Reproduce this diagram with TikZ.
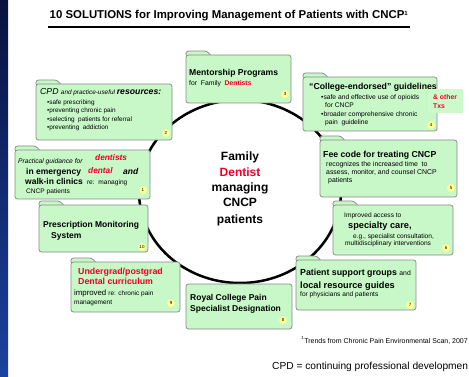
\documentclass[tikz,border=0pt]{standalone}
\usepackage{fontspec}
\usetikzlibrary{shapes.geometric}
\setmainfont{Liberation Sans}
\definecolor{boxgreen}{RGB}{200,247,200}
\definecolor{boxgray}{RGB}{140,140,140}
\definecolor{badgeyellow}{RGB}{255,255,150}
\definecolor{hired}{RGB}{240,0,40}
\definecolor{overlaygreen}{RGB}{205,250,205}
\definecolor{navytop}{RGB}{8,18,62}
\definecolor{navybot}{RGB}{28,66,160}
\newcommand\fsz[1]{\fontsize{#1}{#1}\selectfont}
\newcommand\folderbox[4]{%
  \draw[boxstyle] (#1,{#2+2}) -- (#1,{#2-4}) -- ({#1+21},{#2-4}) -- ({#1+26},{#2+2}) -- cycle;
  \draw[boxstyle] (#1,#2) rectangle (#3,#4);}
\tikzset{
  x=1pt, y=-1pt,
  boxstyle/.style={fill=boxgreen, draw=boxgray, line width=0.8pt, rounded corners=2.5pt},
  badge/.style={circle, fill=badgeyellow, inner sep=0pt, minimum size=8pt, font=\fsz{4.5}},
  txt/.style={anchor=base west, inner sep=0pt},
  ctr/.style={anchor=base, inner sep=0pt, font=\bfseries\fsz{12}},
}
\begin{document}
\begin{tikzpicture}
\useasboundingbox (0,0) rectangle (469,377);
\fill[white] (0,0) rectangle (469,377);
\shade[top color=navytop, bottom color=navybot] (0,0) rectangle (8,377);
% title
\node[anchor=base, inner sep=0pt, font=\bfseries\fsz{11.4}] (title) at (229,19) {10 SOLUTIONS for Improving Management of Patients with CNCP\textsuperscript{\fsz{6}1}};
\coordinate (ulA) at (48,27);
\coordinate (ulB) at (410,27);
\draw[line width=2pt] (ulA) -- (ulB);
% central ellipse
\node[draw, line width=2.5pt, ellipse, minimum width=202pt, minimum height=183pt, inner sep=0pt] (ring) at (240,191.5) {};
% centre text
\node[ctr] (c1) at (240,161) {Family};
\node[ctr, text=hired] (c2) at (240,177) {Dentist};
\node[ctr] (c3) at (240,192) {managing};
\node[ctr] (c4) at (240,207) {CNCP};
\node[ctr] (c5) at (240,223) {patients};
% box 2
\folderbox{36}{84}{172}{140}
\node[txt] (b2a) at (40,95) {\itshape\fsz{8.7}CPD \fsz{6.4}and practice-useful \bfseries\fsz{8.7}resources:};
\node[txt, font=\fsz{6.4}] (b2b) at (47,105) {•safe prescribing};
\node[txt, font=\fsz{6.4}] (b2c) at (47,113) {•preventing chronic pain};
\node[txt, font=\fsz{6.4}] (b2d) at (47,121.5) {•selecting\ \ patients for referral};
\node[txt, font=\fsz{6.4}] (b2e) at (47,130) {•preventing\ \ addiction};
\node[badge] (n2) at (166,133) {2};
% box 3
\folderbox{186}{55}{291}{103}
\node[txt, font=\bfseries\fsz{8.6}] (b3a) at (189,76) {Mentorship Programs};
\node[txt, font=\fsz{6.8}] (b3b) at (189,86) {for\ \ Family\ \ \textcolor{hired}{\bfseries Dentists}};
\node[badge] (n3) at (285,94) {3};
% box 4
\folderbox{303}{77}{437}{131}
\node[txt, font=\bfseries\fsz{8.7}] (b4a) at (309,90) {“College-endorsed” guidelines};
\node[txt, font=\fsz{6.7}] (b4b) at (321,100) {•safe and effective use of opioids};
\node[txt, font=\fsz{6.7}] (b4c) at (325,108) {for CNCP};
\node[txt, font=\fsz{6.7}] (b4d) at (321,117) {•broader comprehensive chronic};
\node[txt, font=\fsz{6.7}] (b4e) at (325,125) {pain\ \ guideline};
\node[badge] (n4) at (431,125) {4};
\fill[overlaygreen] (428,89) rectangle (463,113);
\node[txt, font=\bfseries\fsz{6.8}, text=hired] (ot1) at (433,100) {\& other};
\node[txt, font=\bfseries\fsz{6.8}, text=hired] (ot2) at (433,109) {Txs};
% box 1
\folderbox{15}{150}{150}{199}
\node[txt, font=\itshape\fsz{6.7}] (b1a) at (18,164) {Practical guidance for};
\node[txt, font=\bfseries\itshape\fsz{8.3}, text=hired] (b1b) at (95,161) {dentists};
\node[txt, font=\bfseries\fsz{8.5}] (b1c) at (26,175) {in emergency};
\node[txt, font=\bfseries\itshape\fsz{8.3}, text=hired] (b1d) at (88,174) {dental};
\node[txt, font=\bfseries\itshape\fsz{8.5}] (b1e) at (123,175) {and};
\node[txt] (b1f) at (25,185) {\bfseries\fsz{8.5}walk-in clinics \mdseries\fsz{6.6} re:\ \ managing};
\node[txt, font=\fsz{6.6}] (b1g) at (26,194) {CNCP patients};
\node[badge] (n1) at (143,190) {1};
% box 5
\folderbox{320}{140}{457}{197}
\node[txt, font=\bfseries\fsz{8.7}] (b5a) at (323,158) {Fee code for treating CNCP};
\node[txt, font=\fsz{6.9}] (b5b) at (326,167) {recognizes the increased time\ \ to};
\node[txt, font=\fsz{6.9}] (b5c) at (326,175) {assess, monitor, and counsel CNCP};
\node[txt, font=\fsz{6.9}] (b5d) at (328,183) {patients};
\node[badge] (n5) at (451,188) {5};
% box 10
\folderbox{39}{205}{148}{252}
\node[txt, font=\bfseries\fsz{8.5}] (b10a) at (43,227) {Prescription Monitoring};
\node[txt, font=\bfseries\fsz{8.5}] (b10b) at (51,238) {System};
\node[badge] (n10) at (142,247) {10};
% box 6
\folderbox{333}{205}{453}{255}
\node[txt, font=\fsz{6.6}] (b6a) at (344,218) {Improved access to};
\node[txt, font=\bfseries\fsz{9.2}] (b6b) at (348,229) {specialty care,};
\node[txt, font=\fsz{6.6}] (b6c) at (353,238) {e.g., specialist consultation,};
\node[txt, font=\fsz{6.6}] (b6d) at (345,246) {multidisciplinary interventions};
\node[badge] (n6) at (446,248) {6};
% box 7
\folderbox{296}{260}{416}{310}
\node[txt] (b7a) at (300,276) {\bfseries\fsz{8.8}Patient support groups \mdseries\fsz{6.8}and};
\node[txt, font=\bfseries\fsz{9.2}] (b7b) at (300,288) {local resource guides};
\node[txt, font=\fsz{6.6}] (b7c) at (300,296) {for physicians and patients};
\node[badge] (n7) at (410,305) {7};
% box 9
\folderbox{71}{262}{180}{312}
\node[txt, font=\bfseries\fsz{8.8}, text=hired] (b9a) at (78,274) {Undergrad/postgrad};
\node[txt, font=\bfseries\fsz{8.8}, text=hired] (b9b) at (78,284) {Dental curriculum};
\node[txt] (b9c) at (74,295) {\fsz{7.8}improved \fsz{6.5}re: chronic pain};
\node[txt, font=\fsz{6.5}] (b9d) at (74,304) {management};
\node[badge] (n9) at (171,303) {9};
% box 8
\draw[boxstyle] (186,284) rectangle (292,329);
\node[txt, font=\bfseries\fsz{8.5}] (b8a) at (190,300) {Royal College Pain};
\node[txt, font=\bfseries\fsz{8.5}] (b8b) at (190,311) {Specialist Designation};
\node[badge] (n8) at (283,320) {8};
% footnotes
\node[anchor=base east, inner sep=0pt, font=\fsz{7}] (fn) at (468,343) {\textsuperscript{\fsz{4.5}1}Trends from Chronic Pain Environmental Scan, 2007};
\node[txt, font=\fsz{10.2}] (cpd) at (272,369) {CPD = continuing professional developmen};
\end{tikzpicture}
\end{document}
